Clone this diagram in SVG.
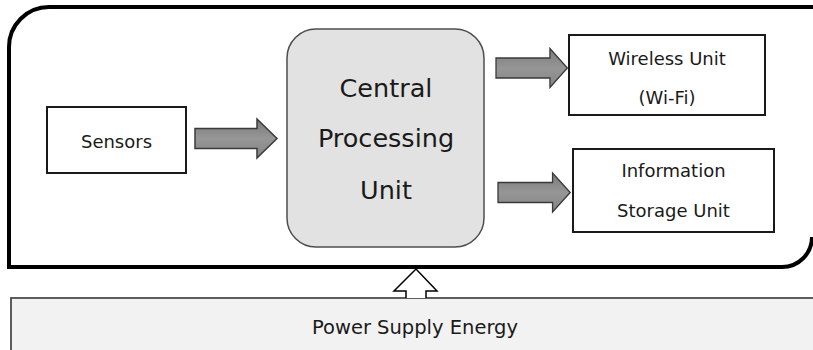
<svg xmlns="http://www.w3.org/2000/svg" width="813" height="350" viewBox="0 0 813 350">
  <style>
    .lbl { font-family: "DejaVu Sans", "Liberation Sans", sans-serif; fill: #1a1a1a; text-anchor: middle; }
    .box { fill: #ffffff; stroke: #1a1a1a; stroke-width: 2; }
    .flow { fill: url(#arrowFill); stroke: #3a3a3a; stroke-width: 1.5; stroke-linejoin: miter; }
  </style>
  <defs>
    <linearGradient id="arrowFill" x1="0" y1="0" x2="0" y2="1">
      <stop offset="0" stop-color="#7a7a7a"/>
      <stop offset="0.5" stop-color="#969696"/>
      <stop offset="1" stop-color="#858585"/>
    </linearGradient>
    <!-- block arrow pointing right, origin at shaft start / centre line -->
    <path id="blockArrow" d="M0 -10 H62 V-19.5 L82 0 L62 19.5 V10 H0 Z"/>
  </defs>

  <rect width="813" height="350" fill="#ffffff"/>

  <!-- power supply band -->
  <g id="power">
    <rect x="11" y="298" width="820" height="70" fill="#f2f2f2" stroke="#4d4d4d" stroke-width="1.8"/>
    <text class="lbl" x="415" y="334" font-size="19.5">Power Supply Energy</text>
  </g>

  <!-- device enclosure -->
  <g id="enclosure">
    <path d="M820 7 H49 A40 40 0 0 0 9 47 V267 H782 A30 30 0 0 0 812 237" fill="none" stroke="#000000" stroke-width="4"/>
  </g>

  <g id="sensors">
    <rect class="box" x="47" y="107" width="139" height="66"/>
    <text class="lbl" x="116.5" y="148" font-size="18">Sensors</text>
  </g>

  <g id="cpu">
    <rect x="287" y="29" width="197" height="218" rx="29" ry="29" fill="#e2e2e2" stroke="#4d4d4d" stroke-width="1.5"/>
    <text class="lbl" x="386" y="97" font-size="25.5">Central</text>
    <text class="lbl" x="386" y="147" font-size="25.5">Processing</text>
    <text class="lbl" x="386" y="199" font-size="25.5">Unit</text>
  </g>

  <g id="wireless">
    <rect class="box" x="569" y="35" width="196" height="80"/>
    <text class="lbl" x="667" y="65" font-size="18">Wireless Unit</text>
    <text class="lbl" x="667" y="104" font-size="18">(Wi-Fi)</text>
  </g>

  <g id="storage">
    <rect class="box" x="573" y="149" width="201" height="83"/>
    <text class="lbl" x="673.5" y="177" font-size="18">Information</text>
    <text class="lbl" x="673.5" y="217" font-size="18">Storage Unit</text>
  </g>

  <g id="connectors">
    <use href="#blockArrow" class="flow" transform="translate(195 138.5)"/>
    <use href="#blockArrow" class="flow" transform="translate(496 68) scale(0.87 1)"/>
    <use href="#blockArrow" class="flow" transform="translate(498 192.5) scale(0.88 1)"/>
    <!-- hollow supply arrow into the enclosure -->
    <path d="M406 298 V291 H394 L416 269 L437 291 H426 V298" fill="#ffffff" stroke="#000000" stroke-width="1.5"/>
  </g>
</svg>
